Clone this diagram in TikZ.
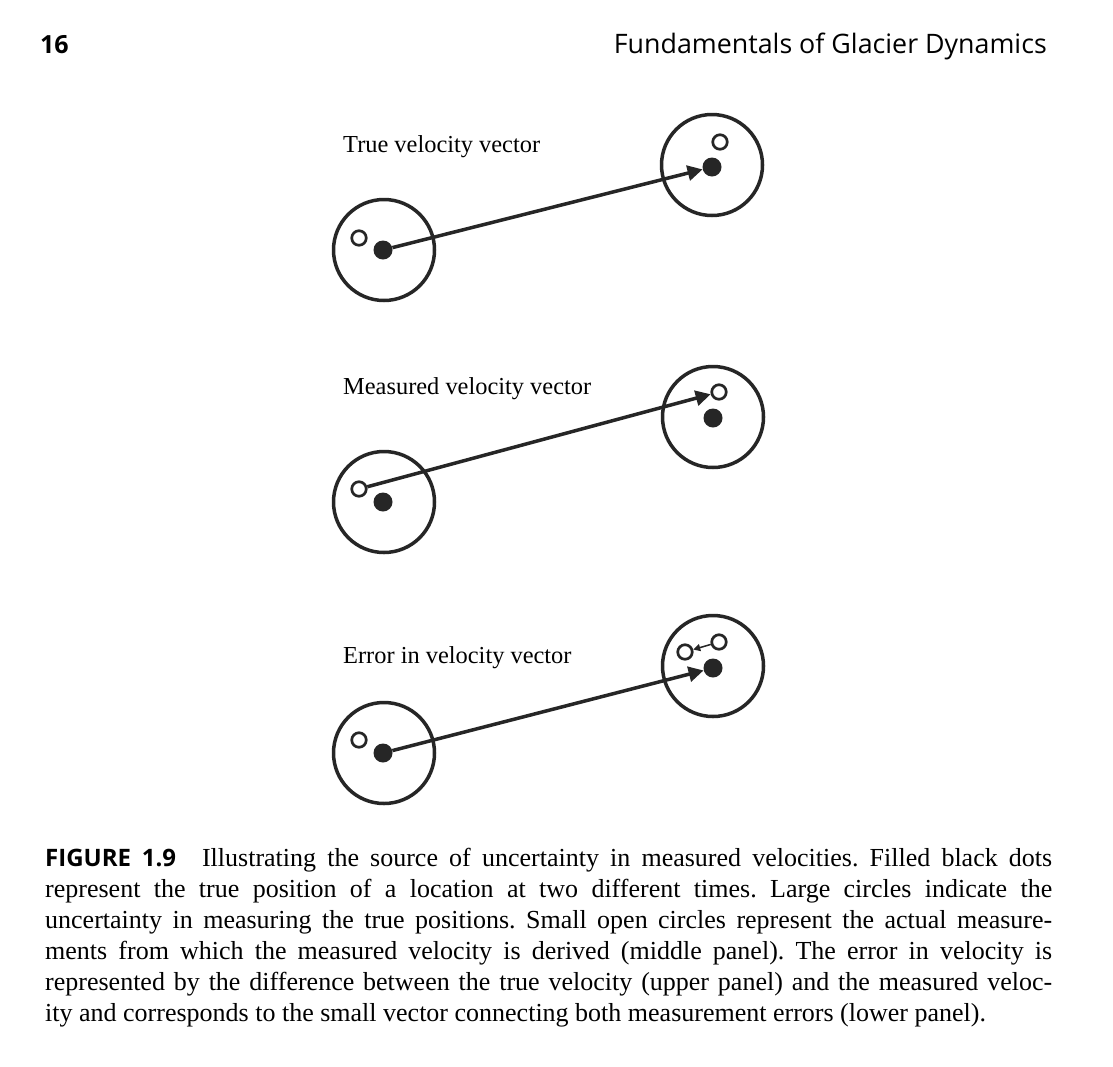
\documentclass[tikz,border=0pt]{standalone}
\usepackage{fontspec}
\setmainfont{Liberation Serif}
\newfontfamily\headfont{Open Sans}
\usetikzlibrary{arrows.meta}
\def\circlelist{{(384,250)/ta}, {(712,165)/tb}, {(384,502)/ma}, {(713,417)/mb}, {(384,753)/ba}, {(713,666)/bb}}
\def\dotlist{{(383,250)/ta}, {(712,167)/tb}, {(383,502)/ma}, {(713,418)/mb}, {(383,753)/ba}, {(713,668)/bb}}
\def\openlist{{(359,238)/ta}, {(720,142)/tb}, {(359,489)/ma}, {(719,392)/mb}, {(359,740)/ba}, {(719,642)/bb}, {(685,652)/bc}}
\def\labellist{{(343,152)/True velocity vector}, {(343,394)/Measured velocity vector}, {(343,663)/Error in velocity vector}}
\tikzstyle{uncertainty}=[circle,draw=black!85,line width=3.5pt,minimum size=101pt,inner sep=0pt]
\tikzstyle{true-pos}=[circle,fill=black!85,minimum size=19pt,inner sep=0pt]
\tikzstyle{meas-pos}=[circle,draw=black!85,line width=2.7pt,minimum size=14.5pt,inner sep=0pt]
\tikzstyle{vector} = [draw=black!85,line width=3.5pt,-{Triangle[length=15pt,width=15pt]}]
\tikzstyle{error-vector} = [draw=black!85,line width=1.5pt,-{Triangle[length=7pt,width=7pt]}]
\tikzstyle{panel-label}=[anchor=base west,inner sep=0pt,font=\fontsize{24.4}{28}\selectfont]

\begin{document}
\begin{tikzpicture}[x=1pt,y=-1pt]
  \path[fill=white] (0,0) rectangle (1113,1066);
  \useasboundingbox (0,0) rectangle (1113,1066);

  % Page header
  \node[anchor=base west,inner sep=0pt,font=\headfont\bfseries\fontsize{25}{30}\selectfont] (page) at (40,53) {16};
  \node[anchor=base east,inner sep=0pt,font=\headfont\fontsize{26.8}{30}\selectfont] (title) at (1047,53) {Fundamentals of Glacier Dynamics};

  % First we draw the circles and positions
  \foreach \pos/\name in \circlelist
    \node[uncertainty] (\name-c) at \pos {};

  \foreach \pos/\name in \dotlist
    \node[true-pos] (\name-d) at \pos {};

  \foreach \pos/\name in \openlist
    \node[meas-pos] (\name-o) at \pos {};

  \foreach \pos/\text [count=\i] in \labellist
    \node[panel-label] (label-\i) at \pos {\text};

  % Connect positions with vectors
  \foreach \source/ \dest in {ta-d/tb-d, ma-o/mb-o, ba-d/bb-d}
    \path[vector] (\source) -- (\dest);

  \path[error-vector] (bb-o) -- (bc-o);

  % Caption
  \node[anchor=north west,inner sep=0pt,text width=1007pt,align=justify,
        font=\fontsize{26}{31}\selectfont\frenchspacing] (caption) at (45,848) {%
    {\headfont\bfseries\fontsize{24}{31}\selectfont FIGURE 1.9}\quad Illustrating the source of uncertainty in measured velocities. Filled black dots\linebreak
    represent the true position of a location at two different times. Large circles indicate the\linebreak
    uncertainty in measuring the true positions. Small open circles represent the actual measure-\linebreak
    ments from which the measured velocity is derived (middle panel). The error in velocity is\linebreak
    represented by the difference between the true velocity (upper panel) and the measured veloc-\linebreak
    ity and corresponds to the small vector connecting both measurement errors (lower panel).};
\end{tikzpicture}
\end{document}
